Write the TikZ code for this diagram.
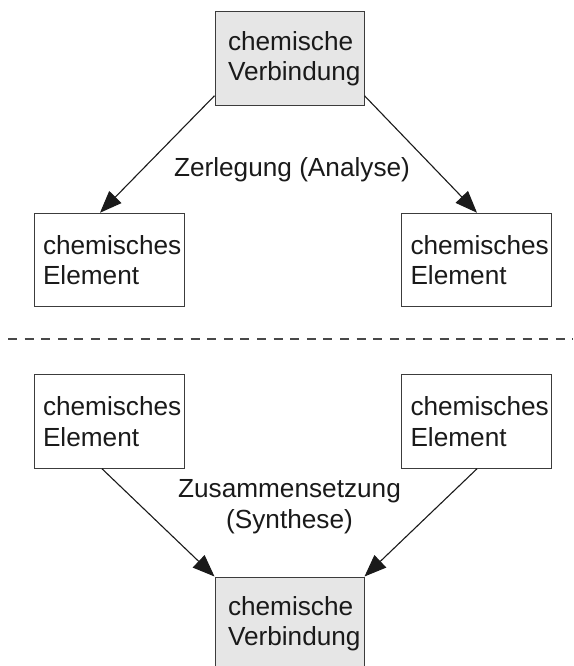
\documentclass[tikz,border=0pt]{standalone}
\usepackage{fontspec}
\setmainfont{Liberation Sans}
\usetikzlibrary{arrows.meta}
\definecolor{ink}{HTML}{1A1A1A}
\definecolor{boxgray}{HTML}{E6E6E6}
\begin{document}
\begin{tikzpicture}[x=1pt,y=-1pt,
  every node/.style={font=\fontsize{26.2}{30.5}\selectfont, text=ink},
  boxbase/.style={draw=ink!85, line width=1pt, rectangle, inner ysep=0pt, minimum height=93.5pt, align=left},
  compound/.style={boxbase, fill=boxgray, minimum width=149pt, inner xsep=13pt, text width=123pt},
  element/.style={boxbase, fill=white, minimum width=150pt, inner xsep=9pt, text width=132pt},
  arr/.style={draw=ink, line width=1.1pt, -{Triangle[length=22pt,width=17pt]}},
  lbl/.style={inner sep=0pt, align=center}
]
\path[use as bounding box, clip] (0,0) rectangle (573,666);

\node[compound] (top) at (289.5,58.5) {chemische\\\mbox{Verbindung}};
\node[element] (e1) at (109,260) {\mbox{chemisches}\\Element};
\node[element] (e2) at (476.5,260) {\mbox{chemisches}\\Element};

\node[element] (e3) at (109,421.5) {\mbox{chemisches}\\Element};
\node[element] (e4) at (476.5,421.5) {\mbox{chemisches}\\Element};
\node[compound] (bot) at (289.5,623.75) {chemische\\\mbox{Verbindung}};

\draw[arr] ([yshift=10pt]top.south west) -- ([xshift=-9pt]e1.north);
\draw[arr] ([yshift=10pt]top.south east) -- ([xshift=0.5pt]e2.north);
\draw[arr] ([xshift=-7pt]e3.south) -- (bot.north west);
\draw[arr] ([xshift=0.5pt]e4.south) -- (bot.north east);

\node[lbl, anchor=base] (ana) at (292,176) {Zerlegung (Analyse)};
\node[lbl, anchor=north] (syn) at (289.5,479.5) {Zusammensetzung\\(Synthese)};

\draw[draw=ink!80, line width=1.8pt, dash pattern=on 9pt off 7.6pt] (8,339) -- (573,339);
\end{tikzpicture}
\end{document}
